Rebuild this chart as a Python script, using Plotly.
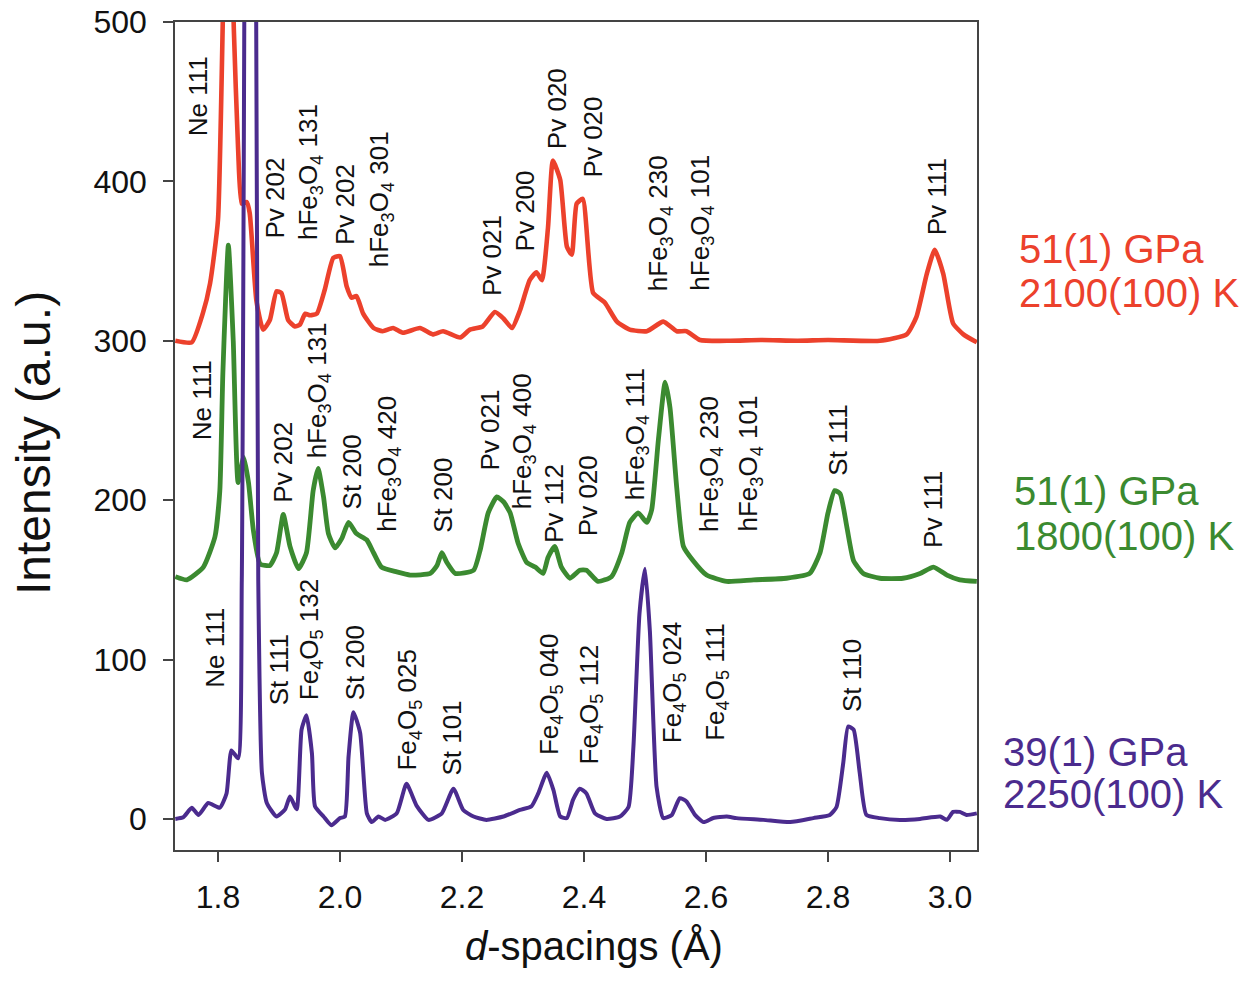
import plotly.graph_objects as go

# ---------------- data ----------------
red_x = [1.730, 1.757, 1.775, 1.787, 1.800, 1.816, 1.826, 1.833, 1.839, 1.847, 1.852, 1.863, 1.874,
         1.885, 1.896, 1.904, 1.915, 1.926, 1.934, 1.943, 1.951, 1.962, 1.975, 1.989, 2.000, 2.011,
         2.019, 2.027, 2.038, 2.055, 2.070, 2.087, 2.103, 2.131, 2.152, 2.169, 2.197, 2.213, 2.234,
         2.254, 2.268, 2.282, 2.295, 2.311, 2.322, 2.331, 2.341, 2.349, 2.361, 2.372, 2.380, 2.388,
         2.398, 2.415, 2.434, 2.454, 2.475, 2.503, 2.530, 2.552, 2.568, 2.590, 2.640, 2.690, 2.750,
         2.800, 2.885, 2.929, 2.945, 2.962, 2.975, 2.989, 3.005, 3.022, 3.044]
red_y = [300, 299, 317, 336, 376, 650, 495, 420, 386, 387, 380, 325, 307,
         313, 331, 330, 313, 309, 310, 317, 316, 317, 332, 352, 353, 334,
         327, 328, 317, 308, 306, 308, 305, 308, 304, 306, 302, 307, 309,
         318, 314, 308, 319, 338, 343, 338, 371, 413, 401, 359, 354, 386,
         389, 330, 324, 312, 307, 306, 312, 306, 306, 300.5, 300, 300.5, 300,
         300.5, 300, 304, 315, 342, 357, 342, 311, 304, 299]

green_x = [1.730, 1.749, 1.776, 1.795, 1.803, 1.808, 1.817, 1.825, 1.833, 1.842, 1.850, 1.858, 1.869,
           1.885, 1.896, 1.907, 1.918, 1.932, 1.945, 1.956, 1.964, 1.973, 1.981, 1.992, 2.003, 2.014,
           2.027, 2.044, 2.055, 2.068, 2.093, 2.115, 2.148, 2.159, 2.167, 2.175, 2.189, 2.219, 2.230,
           2.243, 2.257, 2.268, 2.279, 2.292, 2.306, 2.320, 2.333, 2.341, 2.352, 2.363, 2.377, 2.393,
           2.404, 2.423, 2.445, 2.462, 2.475, 2.489, 2.503, 2.511, 2.522, 2.533, 2.541, 2.552, 2.563,
           2.579, 2.601, 2.634, 2.678, 2.732, 2.770, 2.787, 2.800, 2.811, 2.820, 2.831, 2.842, 2.858,
           2.885, 2.923, 2.951, 2.973, 2.995, 3.016, 3.044]
green_y = [152, 150, 158, 177, 206, 280, 360, 300, 211, 227, 211, 181, 160,
           159, 167, 191, 171, 157, 167, 206, 220, 202, 179, 170, 176, 186,
           179, 175, 167, 158, 155, 153, 154, 159, 167, 161, 154, 156, 169,
           192, 202, 199, 192, 173, 161, 158, 154, 164, 171, 158, 151, 156,
           156, 149, 152, 167, 186, 192, 186, 194, 238, 274, 258, 208, 171,
           162, 153, 149, 150, 151, 154, 167, 192, 206, 204, 183, 162, 154,
           151, 151, 154, 158, 153, 150, 149]

purple_x = [1.730, 1.743, 1.757, 1.768, 1.784, 1.803, 1.814, 1.822, 1.833, 1.839, 1.853, 1.866, 1.872,
            1.880, 1.896, 1.910, 1.918, 1.929, 1.937, 1.945, 1.954, 1.959, 1.973, 1.986, 2.000, 2.008,
            2.014, 2.022, 2.033, 2.044, 2.052, 2.063, 2.074, 2.093, 2.109, 2.126, 2.145, 2.167, 2.186,
            2.202, 2.219, 2.240, 2.268, 2.295, 2.314, 2.325, 2.339, 2.350, 2.361, 2.372, 2.382, 2.393,
            2.404, 2.418, 2.437, 2.459, 2.473, 2.481, 2.491, 2.500, 2.508, 2.519, 2.530, 2.544, 2.557,
            2.568, 2.582, 2.596, 2.612, 2.634, 2.650, 2.694, 2.738, 2.776, 2.803, 2.814, 2.825, 2.833,
            2.842, 2.852, 2.863, 2.885, 2.918, 2.951, 2.984, 2.995, 3.005, 3.016, 3.027, 3.044]
purple_y = [0, 1, 7, 2.5, 10, 7, 16, 43, 38, 150, 1500, 150, 29,
            10, 1.5, 6, 14, 6, 56, 65, 41, 8, 1.5, -4, 0.5, 1.5,
            39, 67, 54, 3.5, -2, 1.5, -0.6, 3.5, 22, 8, -0.6, 3.5, 19,
            5.6, 1.5, -0.6, 1.5, 5.6, 8, 16, 29, 18, 1.5, 0.5, 12, 19,
            16, 3.5, 0, 1.5, 7.5, 45, 129, 157, 118, 20, 0.5, 2.5, 13,
            11, 2.5, -2, 0.6, 1.5, 0.5, -0.6, -2, 0.5, 2.5, 7.5, 35, 58,
            56, 29, 2.5, 0.5, -0.6, 0, 1.5, -0.6, 4.4, 4.4, 2.5, 3.5]

# peak labels: (text, x position, y of text start)
red_labels = [
    ("Ne 111", 1.767, 427), ("Pv 202", 1.893, 363), ("hFe<sub>3</sub>O<sub>4</sub> 131", 1.951, 362),
    ("Pv 202", 2.008, 359), ("hFe<sub>3</sub>O<sub>4</sub> 301", 2.066, 345), ("Pv 021", 2.249, 327),
    ("Pv 200", 2.303, 355), ("Pv 020", 2.355, 419), ("Pv 020", 2.415, 401),
    ("hFe<sub>3</sub>O<sub>4</sub> 230", 2.525, 330), ("hFe<sub>3</sub>O<sub>4</sub> 101", 2.593, 330),
    ("Pv 111", 2.978, 365),
]
green_labels = [
    ("Ne 111", 1.773, 236), ("Pv 202", 1.907, 197), ("hFe<sub>3</sub>O<sub>4</sub> 131", 1.964, 225),
    ("St 200", 2.019, 193), ("hFe<sub>3</sub>O<sub>4</sub> 420", 2.079, 179), ("St 200", 2.169, 178),
    ("Pv 021", 2.246, 217), ("hFe<sub>3</sub>O<sub>4</sub> 400", 2.300, 193), ("Pv 112", 2.352, 172),
    ("Pv 020", 2.407, 176), ("hFe<sub>3</sub>O<sub>4</sub> 111", 2.486, 199),
    ("hFe<sub>3</sub>O<sub>4</sub> 230", 2.607, 179), ("hFe<sub>3</sub>O<sub>4</sub> 101", 2.672, 179),
    ("St 111", 2.817, 214), ("Pv 111", 2.972, 169),
]
purple_labels = [
    ("Ne 111", 1.795, 81), ("St 111", 1.899, 70), ("Fe<sub>4</sub>O<sub>5</sub> 132", 1.951, 73),
    ("St 200", 2.025, 73), ("Fe<sub>4</sub>O<sub>5</sub> 025", 2.112, 29), ("St 101", 2.183, 26),
    ("Fe<sub>4</sub>O<sub>5</sub> 040", 2.344, 39), ("Fe<sub>4</sub>O<sub>5</sub> 112", 2.410, 33),
    ("Fe<sub>4</sub>O<sub>5</sub> 024", 2.546, 46), ("Fe<sub>4</sub>O<sub>5</sub> 111", 2.617, 48),
    ("St 110", 2.839, 66),
]

# condition labels at the right: (line 1, line 2, y line 1, y line 2)
cond_red = ("51(1) GPa", "2100(100) K", 357.6, 330.0)
cond_green = ("51(1) GPa", "1800(100) K", 205.8, 177.5)
cond_purple = ("39(1) GPa", "2250(100) K", 42.0, 15.7)

x_ticks = [1.8, 2.0, 2.2, 2.4, 2.6, 2.8, 3.0]
x_tick_text = ["1.8", "2.0", "2.2", "2.4", "2.6", "2.8", "3.0"]
y_ticks = [0, 100, 200, 300, 400, 500]

RED = "#ec412c"
GREEN = "#3b8a30"
PURPLE = "#4b2b8e"
FONT = "Liberation Sans, Arial, Helvetica, sans-serif"

fig = go.Figure()
fig.add_trace(go.Scatter(x=red_x, y=red_y, mode="lines", showlegend=False,
                         line=dict(color=RED, width=4.6, shape="spline", smoothing=0.5)))
fig.add_trace(go.Scatter(x=green_x, y=green_y, mode="lines", showlegend=False,
                         line=dict(color=GREEN, width=4.8, shape="spline", smoothing=0.5)))
fig.add_trace(go.Scatter(x=purple_x, y=purple_y, mode="lines", showlegend=False,
                         line=dict(color=PURPLE, width=4.0, shape="spline", smoothing=0.5)))

annotations = []
for group in (red_labels, green_labels, purple_labels):
    for text, lx, ly in group:
        annotations.append(dict(x=lx, y=ly, xref="x", yref="y", text=text, textangle=-90,
                                showarrow=False, xanchor="center", yanchor="bottom",
                                font=dict(family=FONT, size=26, color="#111111")))

for (l1, l2, y1, y2), col, xpx in ((cond_red, RED, 1017), (cond_green, GREEN, 1012), (cond_purple, PURPLE, 1001)):
    xp = (xpx - 175) / 802
    for t, yy in ((l1, y1), (l2, y2)):
        annotations.append(dict(x=xp, y=yy, xref="paper", yref="y", text=t, showarrow=False,
                                xanchor="left", yanchor="middle",
                                font=dict(family=FONT, size=40, color=col)))

# axis titles
annotations.append(dict(x=(594 - 175) / 802, y=(850 - 946) / 828, xref="paper", yref="paper",
                        text="<i>d</i>-spacings (Å)", showarrow=False, xanchor="center", yanchor="middle",
                        font=dict(family=FONT, size=40, color="#111111")))
annotations.append(dict(x=(33 - 175) / 802, y=(850 - 443) / 828, xref="paper", yref="paper",
                        text="Intensity (a.u.)", textangle=-90, showarrow=False,
                        xanchor="center", yanchor="middle",
                        font=dict(family=FONT, size=48, color="#111111")))

fig.update_layout(
    width=1250, height=989,
    margin=dict(l=175, r=273, t=22, b=139, autoexpand=False),
    paper_bgcolor="white", plot_bgcolor="white",
    annotations=annotations,
    showlegend=False,
)
fig.update_xaxes(range=[1.7295, 3.0443], tickvals=x_ticks, ticktext=x_tick_text,
                 ticks="outside", ticklen=10, tickwidth=1.5, tickcolor="#444444",
                 showline=True, linecolor="#444444", linewidth=1.5, mirror=True,
                 showgrid=False, zeroline=False, ticklabelstandoff=8, automargin=False,
                 tickfont=dict(family=FONT, size=32, color="#111111"))
fig.update_yaxes(range=[-19.5, 500], tickvals=y_ticks,
                 ticks="outside", ticklen=10, tickwidth=1.5, tickcolor="#444444",
                 showline=True, linecolor="#444444", linewidth=1.5, mirror=True,
                 showgrid=False, zeroline=False, ticklabelstandoff=10, automargin=False,
                 tickfont=dict(family=FONT, size=32, color="#111111"))

fig.write_html("out.html")
